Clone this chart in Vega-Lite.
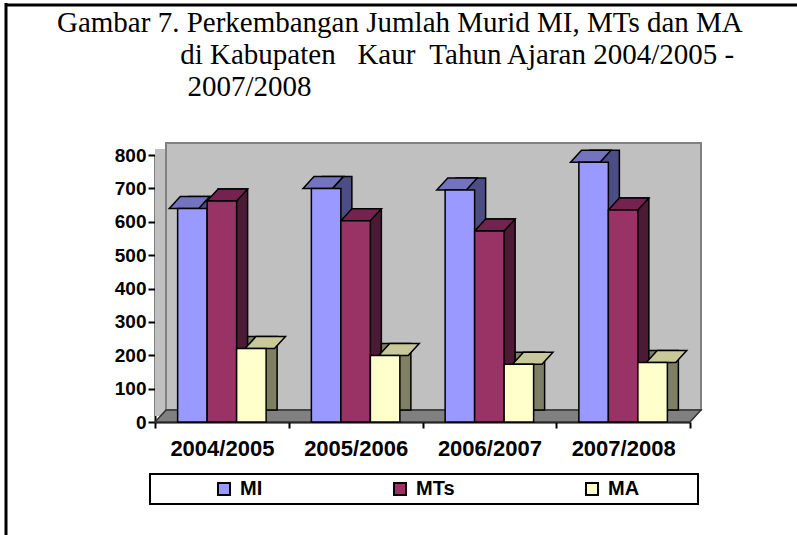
{
  "$schema": "https://vega.github.io/schema/vega-lite/v6.json",
  "width": 535,
  "height": 267,
  "autosize": {"type": "none"},
  "padding": {"left": 155, "top": 155, "right": 107, "bottom": 113},
  "background": "white",
  "config": {
    "view": {"stroke": null},
    "axis": {"grid": false, "domainColor": "black", "domainWidth": 2, "tickColor": "black", "tickWidth": 2, "labelFont": "Liberation Sans", "labelFontWeight": "bold", "labelColor": "black", "labelOverlap": false, "zindex": 1},
    "axisX": {"tickBand": "extent", "labelAngle": 0, "labelAlign": "center", "tickSize": 6, "labelFontSize": 22, "labelPadding": 10},
    "axisY": {"tickCount": 8, "tickSize": 7, "labelFontSize": 19, "labelPadding": 2}
  },
  "title": {
    "text": [
      "Gambar 7. Perkembangan Jumlah Murid MI, MTs dan MA",
      "\u200b\u00a0\u00a0\u00a0\u00a0\u00a0\u00a0\u00a0\u00a0\u00a0\u00a0\u00a0\u00a0\u00a0\u00a0\u00a0\u00a0\u00a0di Kabupaten\u00a0\u00a0 Kaur\u00a0 Tahun Ajaran 2004/2005 -",
      "\u200b\u00a0\u00a0\u00a0\u00a0\u00a0\u00a0\u00a0\u00a0\u00a0\u00a0\u00a0\u00a0\u00a0\u00a0\u00a0\u00a0\u00a0\u00a02007/2008"
    ],
    "font": "Liberation Serif",
    "fontSize": 29,
    "fontWeight": "normal",
    "color": "black",
    "anchor": "start",
    "frame": "group",
    "dx": -98,
    "baseline": "top",
    "offset": -100,
    "lineHeight": 32
  },
  "datasets": {
    "murid": [
      {"year": "2004/2005", "series": "MI", "value": 640},
      {"year": "2004/2005", "series": "MTs", "value": 662},
      {"year": "2004/2005", "series": "MA", "value": 220},
      {"year": "2005/2006", "series": "MI", "value": 700},
      {"year": "2005/2006", "series": "MTs", "value": 603},
      {"year": "2005/2006", "series": "MA", "value": 199},
      {"year": "2006/2007", "series": "MI", "value": 695},
      {"year": "2006/2007", "series": "MTs", "value": 572},
      {"year": "2006/2007", "series": "MA", "value": 173},
      {"year": "2007/2008", "series": "MI", "value": 778},
      {"year": "2007/2008", "series": "MTs", "value": 635},
      {"year": "2007/2008", "series": "MA", "value": 178}
    ],
    "one": [{"k": 1}]
  },
  "layer": [
    {
      "data": {"name": "one"},
      "mark": {"type": "rule", "stroke": "black", "strokeWidth": 3, "xOffset": -149, "yOffset": -152, "y2Offset": 113},
      "encoding": {
        "x": {"datum": "2004/2005", "type": "nominal", "bandPosition": 0, "axis": {"title": null}},
        "y": {"datum": 800, "type": "quantitative", "axis": {"title": null}},
        "y2": {"datum": 0}
      }
    },
    {
      "data": {"name": "one"},
      "mark": {"type": "rule", "stroke": "black", "strokeWidth": 3, "xOffset": -150, "x2Offset": 107, "yOffset": -150},
      "encoding": {
        "x": {"datum": "2004/2005", "type": "nominal", "bandPosition": 0, "axis": {"title": null}},
        "x2": {"datum": "2007/2008", "bandPosition": 1},
        "y": {"datum": 800, "type": "quantitative", "axis": {"title": null}}
      }
    },
    {
      "data": {"name": "one"},
      "mark": {"type": "rect", "fill": "#C0C0C0", "stroke": null, "x2Offset": 11, "yOffset": -6, "y2Offset": -6},
      "encoding": {
        "x": {"datum": "2004/2005", "type": "nominal", "bandPosition": 0, "axis": {"title": null}},
        "x2": {"datum": "2004/2005", "bandPosition": 0},
        "y": {"datum": 800, "type": "quantitative", "axis": {"title": null}},
        "y2": {"datum": 0}
      }
    },
    {
      "data": {"name": "one"},
      "mark": {"type": "rect", "fill": "#C0C0C0", "stroke": "#808080", "strokeWidth": 2, "xOffset": 11, "x2Offset": 11, "yOffset": -12, "y2Offset": -12},
      "encoding": {
        "x": {"datum": "2004/2005", "type": "nominal", "bandPosition": 0, "axis": {"title": null}},
        "x2": {"datum": "2007/2008", "bandPosition": 1},
        "y": {"datum": 800, "type": "quantitative", "axis": {"title": null}},
        "y2": {"datum": 0}
      }
    },
    {
      "data": {"name": "one"},
      "mark": {"type": "point", "shape": "M0,0 L535,0 L546,-12 L11,-12 Z", "size": 4, "filled": true, "fill": "#808080", "stroke": "#303030", "strokeWidth": 1.5, "opacity": 1},
      "encoding": {
        "x": {"datum": "2004/2005", "type": "nominal", "bandPosition": 0, "axis": {"title": null}},
        "y": {"datum": 0, "type": "quantitative", "axis": {"title": null}}
      }
    },
    {
      "data": {"name": "murid"},
      "mark": {"type": "bar", "stroke": "black", "strokeWidth": 1.5, "yOffset": -12, "y2Offset": -12, "opacity": 1},
      "encoding": {
        "x": {"field": "year", "type": "nominal", "axis": {"title": null}},
        "xOffset": {"field": "series", "type": "nominal", "scale": {"domain": ["MI", "MTs", "MA"], "paddingInner": 0, "paddingOuter": 0.767, "align": 0.743}},
        "y": {"field": "value", "type": "quantitative", "axis": {"title": null}},
        "color": {"field": "series", "type": "nominal", "scale": {"domain": ["MI", "MTs", "MA"], "range": ["#4D4D85", "#4D1A35", "#7F7F64"]}, "legend": null}
      }
    },
    {
      "data": {"name": "murid"},
      "mark": {"type": "point", "shape": "M-14.75,0 L14.75,0 L25.75,-12 L-3.75,-12 Z", "size": 4, "filled": true, "stroke": "black", "strokeWidth": 1.5, "opacity": 1},
      "encoding": {
        "x": {"field": "year", "type": "nominal", "axis": {"title": null}},
        "xOffset": {"field": "series", "type": "nominal", "scale": {"domain": ["MI", "MTs", "MA"], "paddingInner": 0, "paddingOuter": 0.767, "align": 0.5}},
        "y": {"field": "value", "type": "quantitative", "axis": {"title": null}},
        "color": {"field": "series", "type": "nominal", "scale": {"domain": ["MI", "MTs", "MA"], "range": ["#7373C0", "#762250", "#C8C89A"]}, "legend": null}
      }
    },
    {
      "data": {"name": "murid"},
      "mark": {"type": "bar", "stroke": "black", "strokeWidth": 1.5, "opacity": 1},
      "encoding": {
        "x": {"field": "year", "type": "nominal", "scale": {"paddingInner": 0, "paddingOuter": 0}, "axis": {"title": null}},
        "xOffset": {"field": "series", "type": "nominal", "scale": {"domain": ["MI", "MTs", "MA"], "paddingInner": 0, "paddingOuter": 0.767, "align": 0.5}},
        "y": {"field": "value", "type": "quantitative", "scale": {"domain": [0, 800], "nice": false}, "axis": {"title": null}},
        "color": {
          "field": "series", "type": "nominal",
          "scale": {"domain": ["MI", "MTs", "MA"], "range": ["#9999FF", "#993366", "#FFFFCC"]},
          "legend": {
            "title": null, "orient": "none", "legendX": 59, "legendY": 324, "direction": "horizontal", "columns": 3,
            "gridAlign": "each", "columnPadding": 127, "padding": 0,
            "symbolType": "square", "symbolSize": 144, "symbolStrokeColor": "black", "symbolStrokeWidth": 2, "symbolOpacity": 1,
            "labelFont": "Liberation Sans", "labelFontWeight": "bold", "labelFontSize": 20, "labelColor": "black", "labelOffset": 6
          }
        }
      }
    },
    {
      "data": {"name": "one"},
      "mark": {"type": "rect", "fill": null, "stroke": "black", "strokeWidth": 2, "xOffset": -5, "x2Offset": 8, "yOffset": 52, "y2Offset": 82},
      "encoding": {
        "x": {"datum": "2004/2005", "type": "nominal", "bandPosition": 0, "axis": {"title": null}},
        "x2": {"datum": "2007/2008", "bandPosition": 1},
        "y": {"datum": 0, "type": "quantitative", "axis": {"title": null}},
        "y2": {"datum": 0}
      }
    }
  ],
  "resolve": {"scale": {"color": "independent", "xOffset": "independent"}, "legend": {"color": "independent"}}
}
